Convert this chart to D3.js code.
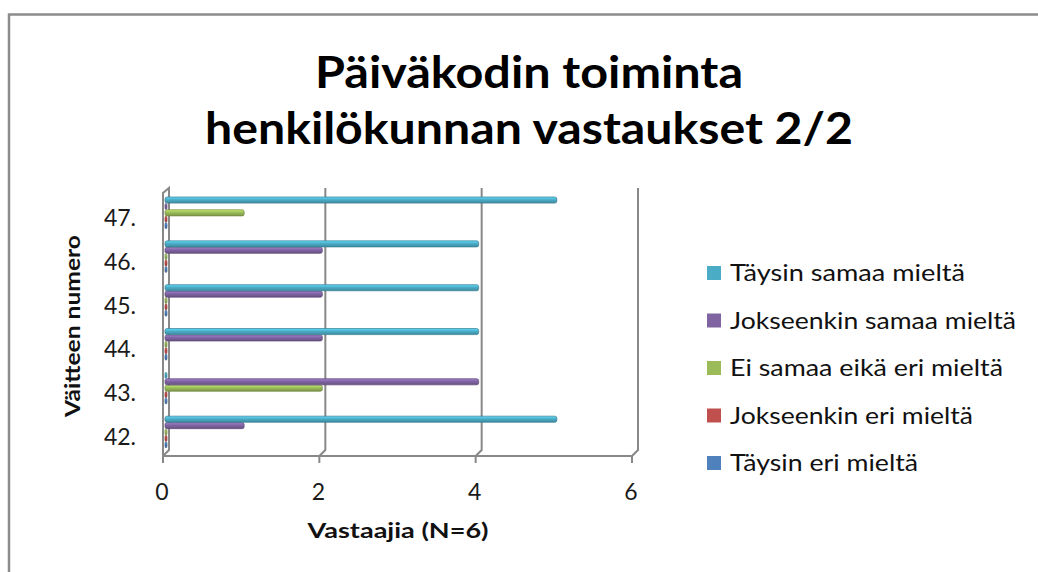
<!DOCTYPE html>
<html><head><meta charset="utf-8">
<script src="https://cdn.jsdelivr.net/npm/d3@7"></script>
<style>body{margin:0;background:#fff}svg{display:block}</style></head>
<body><svg id="c" width="1038" height="572"></svg>
<script>
const categories = ["42.","43.","44.","45.","46.","47."];
const seriesNames = ["Täysin eri mieltä","Jokseenkin eri mieltä","Ei samaa eikä eri mieltä","Jokseenkin samaa mieltä","Täysin samaa mieltä"];
const seriesColors = ["#4F81BD","#C0504D","#9BBB59","#8064A2","#4BACC6"];
const taysinEri = [0,0,0,0,0,0];
const jokseenkinEri = [0,0,0,0,0,0];
const eiSamaaEikaEri = [0,2,0,0,0,1];
const jokseenkinSamaa = [1,4,2,2,2,0];
const taysinSamaa = [5,0,4,4,4,5];
const xTicks = [0,2,4,6];
const titleLines = ["Päiväkodin toiminta","henkilökunnan vastaukset 2/2"];
const xTitle = "Vastaajia (N=6)";
const yTitle = "Väitteen numero";

const seriesValues = [taysinEri, jokseenkinEri, eiSamaaEikaEri, jokseenkinSamaa, taysinSamaa];
const FONT = "Lato, 'Open Sans', sans-serif";
const GRID = "#888888";

const svg = d3.select("#c");
const defs = svg.append("defs");

// outer frame
svg.append("rect").attr("x",9).attr("y",14.5).attr("width",1200).attr("height",700)
  .attr("fill","none").attr("stroke","#8c8c8c").attr("stroke-width",2.5);

// title
const tW = [428, 648];
titleLines.forEach((t,i)=>{
  svg.append("text").attr("x",529).attr("y",[88,144][i]).attr("text-anchor","middle")
    .attr("font-family",FONT).attr("font-weight","bold").attr("font-size",44)
    .attr("textLength",tW[i]).attr("lengthAdjust","spacingAndGlyphs")
    .attr("fill","#000").text(t);
});

// scales
const x = d3.scaleLinear().domain([0,6]).range([163,632]);
const dx = 6, dy = 5;
const yTop = 193, yBot = 456;
const y = d3.scaleBand().domain(categories.slice().reverse()).range([yTop, yBot]);
const sub = d3.scaleBand().domain([4,3,2,1,0]).range([4, 36]);

// walls / gridlines
const g = svg.append("g").attr("fill","none").attr("stroke",GRID).attr("stroke-width",2);
xTicks.forEach(v=>{
  if (v===0) return;
  g.append("path").attr("d",`M${x(v)+dx},${yTop-dy} V${yBot-dy-1} L${x(v)},${yBot}`);
  g.append("line").attr("x1",x(v)).attr("x2",x(v)).attr("y1",yBot).attr("y2",yBot+7);
});
// left wall
g.append("path").attr("d",`M${x(0)},${yBot+7} V${yTop} L${x(0)+dx},${yTop-dy} V${yBot-dy-1} L${x(0)},${yBot}`);
// floor front edge
g.append("line").attr("x1",x(0)).attr("x2",x(6)).attr("y1",yBot).attr("y2",yBot);

// gradients
seriesColors.forEach((c,i)=>{
  const gr = defs.append("linearGradient").attr("id","gr"+i).attr("x1",0).attr("x2",0).attr("y1",0).attr("y2",1);
  const cc = d3.color(c);
  gr.append("stop").attr("offset","0%").attr("stop-color",cc.brighter(0.7));
  gr.append("stop").attr("offset","45%").attr("stop-color",cc);
  gr.append("stop").attr("offset","100%").attr("stop-color",cc.darker(0.6));
});

// bars
const xb0 = x(0)+2;
const bars = svg.append("g");
seriesValues.forEach((vals,si)=>{
  bars.append("g").selectAll("rect").data(vals).join("rect")
    .attr("x", xb0)
    .attr("y", (d,ci)=> y(categories[ci]) + sub(si))
    .attr("height", sub.bandwidth()-0.3)
    .attr("width", d => Math.max(2, x(d)+3 - xb0))
    .attr("rx", 2).attr("ry", 2)
    .attr("fill", `url(#gr${si})`)
    .attr("stroke", d3.color(seriesColors[si]).darker(0.9))
    .attr("stroke-width", 0.7);
});

// y labels
svg.append("g").selectAll("text").data(categories).join("text")
  .attr("x",136).attr("y",d=>y(d)+y.bandwidth()/2+3).attr("dy","0.35em")
  .attr("text-anchor","end").attr("font-family",FONT).attr("font-size",23).attr("fill","#1a1a1a")
  .text(d=>d);

// x labels
svg.append("g").selectAll("text").data(xTicks).join("text")
  .attr("x",d=>x(d)-1).attr("y",492).attr("dy","0.35em")
  .attr("text-anchor","middle").attr("font-family",FONT).attr("font-size",23).attr("fill","#1a1a1a")
  .text(d=>d);

// axis titles
svg.append("text").attr("x",398).attr("y",531).attr("dy","0.35em").attr("text-anchor","middle")
  .attr("font-family",FONT).attr("font-weight","bold").attr("font-size",20).attr("fill","#111")
  .attr("textLength",181).attr("lengthAdjust","spacingAndGlyphs").text(xTitle);
svg.append("text").attr("transform","translate(73,326) rotate(-90)").attr("dy","0.35em").attr("text-anchor","middle")
  .attr("font-family",FONT).attr("font-weight","bold").attr("font-size",20).attr("fill","#111")
  .attr("textLength",182).attr("lengthAdjust","spacingAndGlyphs").text(yTitle);

// legend
const legOrder = [4,3,2,1,0];
const legW = [188, 243, 273, 286, 235]; // text widths indexed by series
const leg = svg.append("g");
legOrder.forEach((si,k)=>{
  const cy = 273 + k*47.5;
  leg.append("rect").attr("x",707).attr("y",cy-7).attr("width",14).attr("height",14)
    .attr("fill",seriesColors[si]);
  leg.append("text").attr("x",730).attr("y",cy).attr("dy","0.35em")
    .attr("font-family",FONT).attr("font-size",23).attr("fill","#111")
    .attr("textLength",legW[si]).attr("lengthAdjust","spacingAndGlyphs")
    .text(seriesNames[si]);
});
</script>
</body></html>
